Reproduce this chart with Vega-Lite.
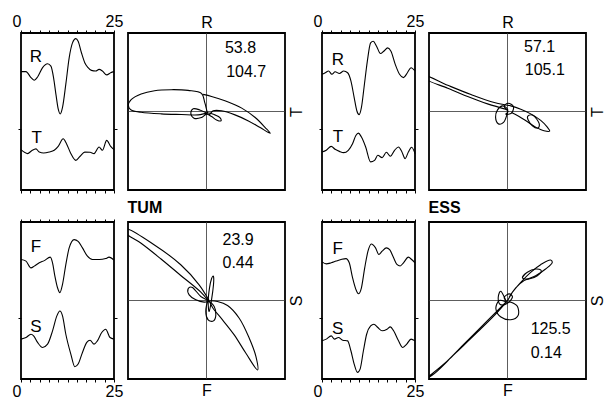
{
"$schema":"https://vega.github.io/schema/vega-lite/v6.json",
"padding":{"left":11,"top":12,"right":5,"bottom":5},
"background":"white",
"config":{"font":"Liberation Sans","view":{"stroke":"black","strokeWidth":1.8},"axis":{"labelFont":"Liberation Sans","titleFont":"Liberation Sans","labelColor":"black","titleColor":"black"},"text":{"font":"Liberation Sans"},"title":{"font":"Liberation Sans","color":"black"}},
"datasets":{
"wave":[
{"s":"TUM","g":"RT","c":"R","t":0,"a":0.754},{"s":"TUM","g":"RT","c":"R","t":1.34,"a":0.754},{"s":"TUM","g":"RT","c":"R","t":2.68,"a":0.716},{"s":"TUM","g":"RT","c":"R","t":3.57,"a":0.699},{"s":"TUM","g":"RT","c":"R","t":4.46,"a":0.72},{"s":"TUM","g":"RT","c":"R","t":5.8,"a":0.779},{"s":"TUM","g":"RT","c":"R","t":7.14,"a":0.804},{"s":"TUM","g":"RT","c":"R","t":8.04,"a":0.789},{"s":"TUM","g":"RT","c":"R","t":8.75,"a":0.716},{"s":"TUM","g":"RT","c":"R","t":9.38,"a":0.611},{"s":"TUM","g":"RT","c":"R","t":10.0,"a":0.516},{"s":"TUM","g":"RT","c":"R","t":10.54,"a":0.484},{"s":"TUM","g":"RT","c":"R","t":11.16,"a":0.526},{"s":"TUM","g":"RT","c":"R","t":12.05,"a":0.674},{"s":"TUM","g":"RT","c":"R","t":12.95,"a":0.842},{"s":"TUM","g":"RT","c":"R","t":13.84,"a":0.937},{"s":"TUM","g":"RT","c":"R","t":14.73,"a":0.964},{"s":"TUM","g":"RT","c":"R","t":15.36,"a":0.947},{"s":"TUM","g":"RT","c":"R","t":16.25,"a":0.874},{"s":"TUM","g":"RT","c":"R","t":17.14,"a":0.811},{"s":"TUM","g":"RT","c":"R","t":18.04,"a":0.779},{"s":"TUM","g":"RT","c":"R","t":18.93,"a":0.762},{"s":"TUM","g":"RT","c":"R","t":20.09,"a":0.758},{"s":"TUM","g":"RT","c":"R","t":20.98,"a":0.768},{"s":"TUM","g":"RT","c":"R","t":21.88,"a":0.758},{"s":"TUM","g":"RT","c":"R","t":23.04,"a":0.733},{"s":"TUM","g":"RT","c":"R","t":24.11,"a":0.747},{"s":"TUM","g":"RT","c":"R","t":25,"a":0.754},
{"s":"TUM","g":"RT","c":"T","t":0,"a":0.257},{"s":"TUM","g":"RT","c":"T","t":1.79,"a":0.232},{"s":"TUM","g":"RT","c":"T","t":2.86,"a":0.25},{"s":"TUM","g":"RT","c":"T","t":4.02,"a":0.262},{"s":"TUM","g":"RT","c":"T","t":4.91,"a":0.242},{"s":"TUM","g":"RT","c":"T","t":6.07,"a":0.236},{"s":"TUM","g":"RT","c":"T","t":7.59,"a":0.242},{"s":"TUM","g":"RT","c":"T","t":8.93,"a":0.253},{"s":"TUM","g":"RT","c":"T","t":10.0,"a":0.278},{"s":"TUM","g":"RT","c":"T","t":11.34,"a":0.326},{"s":"TUM","g":"RT","c":"T","t":12.23,"a":0.295},{"s":"TUM","g":"RT","c":"T","t":13.39,"a":0.232},{"s":"TUM","g":"RT","c":"T","t":14.73,"a":0.189},{"s":"TUM","g":"RT","c":"T","t":15.89,"a":0.215},{"s":"TUM","g":"RT","c":"T","t":17.14,"a":0.241},{"s":"TUM","g":"RT","c":"T","t":18.57,"a":0.24},{"s":"TUM","g":"RT","c":"T","t":19.64,"a":0.232},{"s":"TUM","g":"RT","c":"T","t":20.98,"a":0.274},{"s":"TUM","g":"RT","c":"T","t":21.88,"a":0.253},{"s":"TUM","g":"RT","c":"T","t":23.04,"a":0.316},{"s":"TUM","g":"RT","c":"T","t":24.11,"a":0.278},{"s":"TUM","g":"RT","c":"T","t":25,"a":0.257},
{"s":"ESS","g":"RT","c":"R","t":0,"a":0.737},{"s":"ESS","g":"RT","c":"R","t":0.88,"a":0.747},{"s":"ESS","g":"RT","c":"R","t":1.77,"a":0.758},{"s":"ESS","g":"RT","c":"R","t":2.65,"a":0.737},{"s":"ESS","g":"RT","c":"R","t":3.53,"a":0.753},{"s":"ESS","g":"RT","c":"R","t":4.68,"a":0.742},{"s":"ESS","g":"RT","c":"R","t":5.83,"a":0.758},{"s":"ESS","g":"RT","c":"R","t":6.89,"a":0.747},{"s":"ESS","g":"RT","c":"R","t":7.77,"a":0.695},{"s":"ESS","g":"RT","c":"R","t":8.65,"a":0.589},{"s":"ESS","g":"RT","c":"R","t":9.36,"a":0.505},{"s":"ESS","g":"RT","c":"R","t":9.98,"a":0.48},{"s":"ESS","g":"RT","c":"R","t":10.6,"a":0.526},{"s":"ESS","g":"RT","c":"R","t":11.3,"a":0.653},{"s":"ESS","g":"RT","c":"R","t":12.19,"a":0.821},{"s":"ESS","g":"RT","c":"R","t":13.07,"a":0.937},{"s":"ESS","g":"RT","c":"R","t":13.77,"a":0.947},{"s":"ESS","g":"RT","c":"R","t":14.66,"a":0.916},{"s":"ESS","g":"RT","c":"R","t":15.72,"a":0.869},{"s":"ESS","g":"RT","c":"R","t":16.6,"a":0.884},{"s":"ESS","g":"RT","c":"R","t":17.66,"a":0.905},{"s":"ESS","g":"RT","c":"R","t":18.54,"a":0.884},{"s":"ESS","g":"RT","c":"R","t":19.69,"a":0.8},{"s":"ESS","g":"RT","c":"R","t":20.84,"a":0.737},{"s":"ESS","g":"RT","c":"R","t":21.9,"a":0.716},{"s":"ESS","g":"RT","c":"R","t":22.96,"a":0.747},{"s":"ESS","g":"RT","c":"R","t":23.93,"a":0.779},{"s":"ESS","g":"RT","c":"R","t":25,"a":0.758},
{"s":"ESS","g":"RT","c":"T","t":0,"a":0.242},{"s":"ESS","g":"RT","c":"T","t":1.15,"a":0.253},{"s":"ESS","g":"RT","c":"T","t":2.47,"a":0.278},{"s":"ESS","g":"RT","c":"T","t":3.53,"a":0.259},{"s":"ESS","g":"RT","c":"T","t":4.68,"a":0.246},{"s":"ESS","g":"RT","c":"T","t":5.83,"a":0.238},{"s":"ESS","g":"RT","c":"T","t":7.07,"a":0.253},{"s":"ESS","g":"RT","c":"T","t":8.21,"a":0.295},{"s":"ESS","g":"RT","c":"T","t":9.1,"a":0.347},{"s":"ESS","g":"RT","c":"T","t":9.8,"a":0.362},{"s":"ESS","g":"RT","c":"T","t":10.6,"a":0.337},{"s":"ESS","g":"RT","c":"T","t":11.74,"a":0.274},{"s":"ESS","g":"RT","c":"T","t":13.07,"a":0.179},{"s":"ESS","g":"RT","c":"T","t":14.13,"a":0.189},{"s":"ESS","g":"RT","c":"T","t":15.01,"a":0.221},{"s":"ESS","g":"RT","c":"T","t":16.16,"a":0.206},{"s":"ESS","g":"RT","c":"T","t":17.31,"a":0.24},{"s":"ESS","g":"RT","c":"T","t":18.37,"a":0.215},{"s":"ESS","g":"RT","c":"T","t":19.51,"a":0.253},{"s":"ESS","g":"RT","c":"T","t":20.57,"a":0.274},{"s":"ESS","g":"RT","c":"T","t":21.46,"a":0.244},{"s":"ESS","g":"RT","c":"T","t":22.34,"a":0.2},{"s":"ESS","g":"RT","c":"T","t":23.22,"a":0.242},{"s":"ESS","g":"RT","c":"T","t":24.1,"a":0.272},{"s":"ESS","g":"RT","c":"T","t":25,"a":0.232},
{"s":"TUM","g":"FS","c":"F","t":0,"a":0.761},{"s":"TUM","g":"FS","c":"F","t":1.34,"a":0.751},{"s":"TUM","g":"FS","c":"F","t":2.68,"a":0.708},{"s":"TUM","g":"FS","c":"F","t":3.57,"a":0.719},{"s":"TUM","g":"FS","c":"F","t":4.91,"a":0.74},{"s":"TUM","g":"FS","c":"F","t":6.25,"a":0.754},{"s":"TUM","g":"FS","c":"F","t":7.86,"a":0.776},{"s":"TUM","g":"FS","c":"F","t":8.48,"a":0.74},{"s":"TUM","g":"FS","c":"F","t":9.11,"a":0.655},{"s":"TUM","g":"FS","c":"F","t":9.82,"a":0.581},{"s":"TUM","g":"FS","c":"F","t":10.45,"a":0.55},{"s":"TUM","g":"FS","c":"F","t":11.16,"a":0.603},{"s":"TUM","g":"FS","c":"F","t":12.05,"a":0.729},{"s":"TUM","g":"FS","c":"F","t":12.95,"a":0.835},{"s":"TUM","g":"FS","c":"F","t":14.29,"a":0.888},{"s":"TUM","g":"FS","c":"F","t":15.36,"a":0.877},{"s":"TUM","g":"FS","c":"F","t":16.52,"a":0.835},{"s":"TUM","g":"FS","c":"F","t":17.86,"a":0.782},{"s":"TUM","g":"FS","c":"F","t":19.2,"a":0.761},{"s":"TUM","g":"FS","c":"F","t":20.98,"a":0.761},{"s":"TUM","g":"FS","c":"F","t":22.77,"a":0.767},{"s":"TUM","g":"FS","c":"F","t":23.66,"a":0.776},{"s":"TUM","g":"FS","c":"F","t":25,"a":0.757},
{"s":"TUM","g":"FS","c":"S","t":0,"a":0.254},{"s":"TUM","g":"FS","c":"S","t":1.34,"a":0.264},{"s":"TUM","g":"FS","c":"S","t":2.68,"a":0.285},{"s":"TUM","g":"FS","c":"S","t":3.39,"a":0.275},{"s":"TUM","g":"FS","c":"S","t":4.46,"a":0.233},{"s":"TUM","g":"FS","c":"S","t":5.8,"a":0.201},{"s":"TUM","g":"FS","c":"S","t":7.14,"a":0.222},{"s":"TUM","g":"FS","c":"S","t":8.48,"a":0.307},{"s":"TUM","g":"FS","c":"S","t":9.64,"a":0.402},{"s":"TUM","g":"FS","c":"S","t":10.45,"a":0.433},{"s":"TUM","g":"FS","c":"S","t":11.16,"a":0.402},{"s":"TUM","g":"FS","c":"S","t":12.05,"a":0.285},{"s":"TUM","g":"FS","c":"S","t":13.39,"a":0.159},{"s":"TUM","g":"FS","c":"S","t":14.47,"a":0.078},{"s":"TUM","g":"FS","c":"S","t":15.36,"a":0.095},{"s":"TUM","g":"FS","c":"S","t":16.52,"a":0.169},{"s":"TUM","g":"FS","c":"S","t":17.68,"a":0.233},{"s":"TUM","g":"FS","c":"S","t":18.57,"a":0.247},{"s":"TUM","g":"FS","c":"S","t":19.64,"a":0.222},{"s":"TUM","g":"FS","c":"S","t":20.54,"a":0.243},{"s":"TUM","g":"FS","c":"S","t":21.7,"a":0.296},{"s":"TUM","g":"FS","c":"S","t":22.77,"a":0.317},{"s":"TUM","g":"FS","c":"S","t":23.93,"a":0.264},{"s":"TUM","g":"FS","c":"S","t":25,"a":0.254},
{"s":"ESS","g":"FS","c":"F","t":0,"a":0.746},{"s":"ESS","g":"FS","c":"F","t":1.15,"a":0.733},{"s":"ESS","g":"FS","c":"F","t":2.47,"a":0.74},{"s":"ESS","g":"FS","c":"F","t":3.8,"a":0.751},{"s":"ESS","g":"FS","c":"F","t":5.12,"a":0.761},{"s":"ESS","g":"FS","c":"F","t":6.45,"a":0.767},{"s":"ESS","g":"FS","c":"F","t":7.33,"a":0.74},{"s":"ESS","g":"FS","c":"F","t":8.21,"a":0.645},{"s":"ESS","g":"FS","c":"F","t":9.1,"a":0.571},{"s":"ESS","g":"FS","c":"F","t":9.8,"a":0.543},{"s":"ESS","g":"FS","c":"F","t":10.6,"a":0.581},{"s":"ESS","g":"FS","c":"F","t":11.48,"a":0.708},{"s":"ESS","g":"FS","c":"F","t":12.36,"a":0.814},{"s":"ESS","g":"FS","c":"F","t":13.25,"a":0.86},{"s":"ESS","g":"FS","c":"F","t":14.39,"a":0.835},{"s":"ESS","g":"FS","c":"F","t":15.28,"a":0.793},{"s":"ESS","g":"FS","c":"F","t":16.16,"a":0.814},{"s":"ESS","g":"FS","c":"F","t":17.31,"a":0.835},{"s":"ESS","g":"FS","c":"F","t":18.19,"a":0.824},{"s":"ESS","g":"FS","c":"F","t":19.25,"a":0.772},{"s":"ESS","g":"FS","c":"F","t":20.13,"a":0.73},{"s":"ESS","g":"FS","c":"F","t":21.02,"a":0.72},{"s":"ESS","g":"FS","c":"F","t":21.9,"a":0.74},{"s":"ESS","g":"FS","c":"F","t":23.22,"a":0.776},{"s":"ESS","g":"FS","c":"F","t":24.1,"a":0.761},{"s":"ESS","g":"FS","c":"F","t":25,"a":0.74},
{"s":"ESS","g":"FS","c":"S","t":0,"a":0.243},{"s":"ESS","g":"FS","c":"S","t":1.15,"a":0.254},{"s":"ESS","g":"FS","c":"S","t":2.47,"a":0.275},{"s":"ESS","g":"FS","c":"S","t":3.36,"a":0.254},{"s":"ESS","g":"FS","c":"S","t":4.42,"a":0.264},{"s":"ESS","g":"FS","c":"S","t":5.56,"a":0.247},{"s":"ESS","g":"FS","c":"S","t":6.89,"a":0.243},{"s":"ESS","g":"FS","c":"S","t":7.77,"a":0.18},{"s":"ESS","g":"FS","c":"S","t":8.65,"a":0.095},{"s":"ESS","g":"FS","c":"S","t":9.54,"a":0.042},{"s":"ESS","g":"FS","c":"S","t":10.24,"a":0.063},{"s":"ESS","g":"FS","c":"S","t":11.13,"a":0.18},{"s":"ESS","g":"FS","c":"S","t":12.0,"a":0.285},{"s":"ESS","g":"FS","c":"S","t":13.07,"a":0.338},{"s":"ESS","g":"FS","c":"S","t":13.95,"a":0.349},{"s":"ESS","g":"FS","c":"S","t":15.01,"a":0.328},{"s":"ESS","g":"FS","c":"S","t":16.16,"a":0.307},{"s":"ESS","g":"FS","c":"S","t":17.48,"a":0.317},{"s":"ESS","g":"FS","c":"S","t":18.37,"a":0.332},{"s":"ESS","g":"FS","c":"S","t":19.25,"a":0.307},{"s":"ESS","g":"FS","c":"S","t":20.57,"a":0.243},{"s":"ESS","g":"FS","c":"S","t":21.72,"a":0.201},{"s":"ESS","g":"FS","c":"S","t":22.78,"a":0.222},{"s":"ESS","g":"FS","c":"S","t":23.93,"a":0.254},{"s":"ESS","g":"FS","c":"S","t":25,"a":0.243}
],
"wlab":[
{"s":"TUM","g":"RT","c":"R","t":4.0,"a":0.844},{"s":"TUM","g":"RT","c":"T","t":4.2,"a":0.332},
{"s":"ESS","g":"RT","c":"R","t":4.3,"a":0.83},{"s":"ESS","g":"RT","c":"T","t":4.3,"a":0.34},
{"s":"TUM","g":"FS","c":"F","t":4.0,"a":0.842},{"s":"TUM","g":"FS","c":"S","t":4.0,"a":0.332},
{"s":"ESS","g":"FS","c":"F","t":4.2,"a":0.83},{"s":"ESS","g":"FS","c":"S","t":4.2,"a":0.32}
],
"pmtxt":[
{"s":"TUM","g":"RT","txt":"53.8","h":0.235,"v":0.81},{"s":"TUM","g":"RT","txt":"104.7","h":0.25,"v":0.5},
{"s":"ESS","g":"RT","txt":"57.1","h":0.21,"v":0.825},{"s":"ESS","g":"RT","txt":"105.1","h":0.22,"v":0.53},
{"s":"TUM","g":"FS","txt":"23.9","h":0.204,"v":0.775},{"s":"TUM","g":"FS","txt":"0.44","h":0.204,"v":0.476},
{"s":"ESS","g":"FS","txt":"125.5","h":0.295,"v":-0.358},{"s":"ESS","g":"FS","txt":"0.14","h":0.295,"v":-0.67}
],
"pm":[
{"s":"TUM","g":"RT","k":0,"i":0,"h":0,"v":-0.02},{"s":"TUM","g":"RT","k":0,"i":1,"h":-0.085,"v":0.02},{"s":"TUM","g":"RT","k":0,"i":2,"h":-0.17,"v":0.034},{"s":"TUM","g":"RT","k":0,"i":3,"h":-0.2,"v":-0.02},{"s":"TUM","g":"RT","k":0,"i":4,"h":-0.16,"v":-0.085},{"s":"TUM","g":"RT","k":0,"i":5,"h":-0.064,"v":-0.077},{"s":"TUM","g":"RT","k":0,"i":6,"h":0,"v":-0.034},{"s":"TUM","g":"RT","k":0,"i":7,"h":0.064,"v":-0.064},{"s":"TUM","g":"RT","k":0,"i":8,"h":0.128,"v":-0.107},{"s":"TUM","g":"RT","k":0,"i":9,"h":0.184,"v":-0.12},{"s":"TUM","g":"RT","k":0,"i":10,"h":0.171,"v":-0.077},{"s":"TUM","g":"RT","k":0,"i":11,"h":0.107,"v":-0.043},{"s":"TUM","g":"RT","k":0,"i":12,"h":0.03,"v":-0.02},{"s":"TUM","g":"RT","k":0,"i":13,"h":-0.107,"v":-0.043},{"s":"TUM","g":"RT","k":0,"i":14,"h":-0.32,"v":-0.038},{"s":"TUM","g":"RT","k":0,"i":15,"h":-0.577,"v":-0.03},{"s":"TUM","g":"RT","k":0,"i":16,"h":-0.833,"v":-0.009},{"s":"TUM","g":"RT","k":0,"i":17,"h":-0.96,"v":0.02},{"s":"TUM","g":"RT","k":0,"i":18,"h":-0.996,"v":0.077},{"s":"TUM","g":"RT","k":0,"i":19,"h":-0.96,"v":0.15},{"s":"TUM","g":"RT","k":0,"i":20,"h":-0.833,"v":0.222},{"s":"TUM","g":"RT","k":0,"i":21,"h":-0.662,"v":0.265},{"s":"TUM","g":"RT","k":0,"i":22,"h":-0.449,"v":0.278},{"s":"TUM","g":"RT","k":0,"i":23,"h":-0.235,"v":0.269},{"s":"TUM","g":"RT","k":0,"i":24,"h":-0.064,"v":0.231},{"s":"TUM","g":"RT","k":0,"i":25,"h":-0.02,"v":0.107},{"s":"TUM","g":"RT","k":0,"i":26,"h":0.03,"v":-0.043},{"s":"TUM","g":"RT","k":0,"i":27,"h":0.085,"v":0.009},{"s":"TUM","g":"RT","k":0,"i":28,"h":0.192,"v":0.009},{"s":"TUM","g":"RT","k":0,"i":29,"h":0.363,"v":-0.043},{"s":"TUM","g":"RT","k":0,"i":30,"h":0.534,"v":-0.12},{"s":"TUM","g":"RT","k":0,"i":31,"h":0.684,"v":-0.205},{"s":"TUM","g":"RT","k":0,"i":32,"h":0.812,"v":-0.278},{"s":"TUM","g":"RT","k":0,"i":33,"h":0.748,"v":-0.205},{"s":"TUM","g":"RT","k":0,"i":34,"h":0.62,"v":-0.077},{"s":"TUM","g":"RT","k":0,"i":35,"h":0.449,"v":0.043},{"s":"TUM","g":"RT","k":0,"i":36,"h":0.235,"v":0.137},{"s":"TUM","g":"RT","k":0,"i":37,"h":0.064,"v":0.192},{"s":"TUM","g":"RT","k":0,"i":38,"h":-0.043,"v":0.218},
{"s":"ESS","g":"RT","k":1,"i":0,"h":0.008,"v":0},{"s":"ESS","g":"RT","k":1,"i":1,"h":-0.042,"v":0.063},{"s":"ESS","g":"RT","k":1,"i":2,"h":0.008,"v":0.106},{"s":"ESS","g":"RT","k":1,"i":3,"h":0.076,"v":0.063},{"s":"ESS","g":"RT","k":1,"i":4,"h":0.051,"v":-0.021},{"s":"ESS","g":"RT","k":1,"i":5,"h":-0.021,"v":-0.034},
{"s":"ESS","g":"RT","k":2,"i":0,"h":-0.063,"v":0.072},{"s":"ESS","g":"RT","k":2,"i":1,"h":-0.127,"v":0.021},{"s":"ESS","g":"RT","k":2,"i":2,"h":-0.152,"v":-0.072},{"s":"ESS","g":"RT","k":2,"i":3,"h":-0.118,"v":-0.156},{"s":"ESS","g":"RT","k":2,"i":4,"h":-0.051,"v":-0.14},{"s":"ESS","g":"RT","k":2,"i":5,"h":-0.008,"v":-0.042},{"s":"ESS","g":"RT","k":2,"i":6,"h":0,"v":0.03},
{"s":"ESS","g":"RT","k":0,"i":0,"h":0.008,"v":0.021},{"s":"ESS","g":"RT","k":0,"i":1,"h":-0.254,"v":0.097},{"s":"ESS","g":"RT","k":0,"i":2,"h":-0.507,"v":0.19},{"s":"ESS","g":"RT","k":0,"i":3,"h":-0.761,"v":0.296},{"s":"ESS","g":"RT","k":0,"i":4,"h":-1.05,"v":0.42},{"s":"ESS","g":"RT","k":0,"i":5,"h":-1.05,"v":0.455},{"s":"ESS","g":"RT","k":0,"i":6,"h":-0.761,"v":0.334},{"s":"ESS","g":"RT","k":0,"i":7,"h":-0.465,"v":0.216},{"s":"ESS","g":"RT","k":0,"i":8,"h":-0.169,"v":0.114},{"s":"ESS","g":"RT","k":0,"i":9,"h":0.042,"v":0.072},{"s":"ESS","g":"RT","k":0,"i":10,"h":0.169,"v":0.03},{"s":"ESS","g":"RT","k":0,"i":11,"h":0.296,"v":-0.03},{"s":"ESS","g":"RT","k":0,"i":12,"h":0.423,"v":-0.114},{"s":"ESS","g":"RT","k":0,"i":13,"h":0.507,"v":-0.199},{"s":"ESS","g":"RT","k":0,"i":14,"h":0.537,"v":-0.249},{"s":"ESS","g":"RT","k":0,"i":15,"h":0.465,"v":-0.245},{"s":"ESS","g":"RT","k":0,"i":16,"h":0.359,"v":-0.199},{"s":"ESS","g":"RT","k":0,"i":17,"h":0.254,"v":-0.131},{"s":"ESS","g":"RT","k":0,"i":18,"h":0.148,"v":-0.063},{"s":"ESS","g":"RT","k":0,"i":19,"h":0.051,"v":-0.013},
{"s":"ESS","g":"RT","k":3,"i":0,"h":0.262,"v":-0.055},{"s":"ESS","g":"RT","k":3,"i":1,"h":0.33,"v":-0.051},{"s":"ESS","g":"RT","k":3,"i":2,"h":0.402,"v":-0.148},{"s":"ESS","g":"RT","k":3,"i":3,"h":0.389,"v":-0.211},{"s":"ESS","g":"RT","k":3,"i":4,"h":0.317,"v":-0.182},{"s":"ESS","g":"RT","k":3,"i":5,"h":0.262,"v":-0.106},
{"s":"TUM","g":"FS","k":0,"i":0,"h":0.021,"v":0},{"s":"TUM","g":"FS","k":0,"i":1,"h":-0.072,"v":0.106},{"s":"TUM","g":"FS","k":0,"i":2,"h":-0.328,"v":0.319},{"s":"TUM","g":"FS","k":0,"i":3,"h":-0.583,"v":0.532},{"s":"TUM","g":"FS","k":0,"i":4,"h":-0.838,"v":0.732},{"s":"TUM","g":"FS","k":0,"i":5,"h":-1.03,"v":0.86},{"s":"TUM","g":"FS","k":0,"i":6,"h":-1.03,"v":0.915},{"s":"TUM","g":"FS","k":0,"i":7,"h":-0.668,"v":0.711},{"s":"TUM","g":"FS","k":0,"i":8,"h":-0.328,"v":0.455},{"s":"TUM","g":"FS","k":0,"i":9,"h":-0.094,"v":0.2},{"s":"TUM","g":"FS","k":0,"i":10,"h":0.021,"v":0.021},{"s":"TUM","g":"FS","k":0,"i":11,"h":0.077,"v":-0.089},{"s":"TUM","g":"FS","k":0,"i":12,"h":0.204,"v":-0.247},{"s":"TUM","g":"FS","k":0,"i":13,"h":0.353,"v":-0.438},{"s":"TUM","g":"FS","k":0,"i":14,"h":0.502,"v":-0.672},{"s":"TUM","g":"FS","k":0,"i":15,"h":0.651,"v":-0.885},{"s":"TUM","g":"FS","k":0,"i":16,"h":0.63,"v":-0.715},{"s":"TUM","g":"FS","k":0,"i":17,"h":0.545,"v":-0.481},{"s":"TUM","g":"FS","k":0,"i":18,"h":0.417,"v":-0.226},{"s":"TUM","g":"FS","k":0,"i":19,"h":0.268,"v":-0.064},{"s":"TUM","g":"FS","k":0,"i":20,"h":0.14,"v":-0.013},{"s":"TUM","g":"FS","k":0,"i":21,"h":0.047,"v":-0.004},
{"s":"TUM","g":"FS","k":1,"i":0,"h":0.021,"v":0},{"s":"TUM","g":"FS","k":1,"i":1,"h":-0.072,"v":0.051},{"s":"TUM","g":"FS","k":1,"i":2,"h":-0.179,"v":0.166},{"s":"TUM","g":"FS","k":1,"i":3,"h":-0.234,"v":0.149},{"s":"TUM","g":"FS","k":1,"i":4,"h":-0.221,"v":0.072},{"s":"TUM","g":"FS","k":1,"i":5,"h":-0.136,"v":0.009},{"s":"TUM","g":"FS","k":1,"i":6,"h":-0.03,"v":-0.021},
{"s":"TUM","g":"FS","k":2,"i":0,"h":0.021,"v":-0.013},{"s":"TUM","g":"FS","k":2,"i":1,"h":0.038,"v":0.157},{"s":"TUM","g":"FS","k":2,"i":2,"h":0.064,"v":0.277},{"s":"TUM","g":"FS","k":2,"i":3,"h":0.089,"v":0.306},{"s":"TUM","g":"FS","k":2,"i":4,"h":0.089,"v":0.2},{"s":"TUM","g":"FS","k":2,"i":5,"h":0.064,"v":0.009},{"s":"TUM","g":"FS","k":2,"i":6,"h":0.034,"v":-0.14},
{"s":"TUM","g":"FS","k":3,"i":0,"h":0.021,"v":-0.013},{"s":"TUM","g":"FS","k":3,"i":1,"h":-0.009,"v":-0.14},{"s":"TUM","g":"FS","k":3,"i":2,"h":0.021,"v":-0.247},{"s":"TUM","g":"FS","k":3,"i":3,"h":0.089,"v":-0.26},{"s":"TUM","g":"FS","k":3,"i":4,"h":0.119,"v":-0.183},{"s":"TUM","g":"FS","k":3,"i":5,"h":0.098,"v":-0.077},
{"s":"ESS","g":"FS","k":0,"i":0,"h":-0.021,"v":-0.021},{"s":"ESS","g":"FS","k":0,"i":1,"h":-0.253,"v":-0.253},{"s":"ESS","g":"FS","k":0,"i":2,"h":-0.549,"v":-0.549},{"s":"ESS","g":"FS","k":0,"i":3,"h":-0.802,"v":-0.802},{"s":"ESS","g":"FS","k":0,"i":4,"h":-1.04,"v":-1.0},{"s":"ESS","g":"FS","k":0,"i":5,"h":-0.928,"v":-0.928},{"s":"ESS","g":"FS","k":0,"i":6,"h":-0.675,"v":-0.684},{"s":"ESS","g":"FS","k":0,"i":7,"h":-0.38,"v":-0.401},{"s":"ESS","g":"FS","k":0,"i":8,"h":-0.127,"v":-0.148},{"s":"ESS","g":"FS","k":0,"i":9,"h":0,"v":0},{"s":"ESS","g":"FS","k":0,"i":10,"h":0.063,"v":0.105},{"s":"ESS","g":"FS","k":0,"i":11,"h":0.169,"v":0.232},{"s":"ESS","g":"FS","k":0,"i":12,"h":0.295,"v":0.359},{"s":"ESS","g":"FS","k":0,"i":13,"h":0.422,"v":0.456},{"s":"ESS","g":"FS","k":0,"i":14,"h":0.549,"v":0.515},{"s":"ESS","g":"FS","k":0,"i":15,"h":0.57,"v":0.485},{"s":"ESS","g":"FS","k":0,"i":16,"h":0.485,"v":0.401},{"s":"ESS","g":"FS","k":0,"i":17,"h":0.359,"v":0.316},{"s":"ESS","g":"FS","k":0,"i":18,"h":0.211,"v":0.253},{"s":"ESS","g":"FS","k":0,"i":19,"h":0.105,"v":0.16},{"s":"ESS","g":"FS","k":0,"i":20,"h":0.021,"v":0.042},
{"s":"ESS","g":"FS","k":1,"i":0,"h":0.19,"v":0.287},{"s":"ESS","g":"FS","k":1,"i":1,"h":0.253,"v":0.359},{"s":"ESS","g":"FS","k":1,"i":2,"h":0.359,"v":0.401},{"s":"ESS","g":"FS","k":1,"i":3,"h":0.43,"v":0.38},{"s":"ESS","g":"FS","k":1,"i":4,"h":0.38,"v":0.316},{"s":"ESS","g":"FS","k":1,"i":5,"h":0.274,"v":0.274},
{"s":"ESS","g":"FS","k":2,"i":0,"h":-0.008,"v":-0.021},{"s":"ESS","g":"FS","k":2,"i":1,"h":-0.105,"v":0},{"s":"ESS","g":"FS","k":2,"i":2,"h":-0.148,"v":-0.105},{"s":"ESS","g":"FS","k":2,"i":3,"h":-0.084,"v":-0.211},{"s":"ESS","g":"FS","k":2,"i":4,"h":0.042,"v":-0.245},{"s":"ESS","g":"FS","k":2,"i":5,"h":0.135,"v":-0.19},{"s":"ESS","g":"FS","k":2,"i":6,"h":0.127,"v":-0.076},{"s":"ESS","g":"FS","k":2,"i":7,"h":0.042,"v":-0.021},
{"s":"ESS","g":"FS","k":3,"i":0,"h":-0.021,"v":0},{"s":"ESS","g":"FS","k":3,"i":1,"h":-0.084,"v":0.118},{"s":"ESS","g":"FS","k":3,"i":2,"h":-0.118,"v":0.042},{"s":"ESS","g":"FS","k":3,"i":3,"h":-0.093,"v":-0.051},{"s":"ESS","g":"FS","k":3,"i":4,"h":0,"v":-0.034},{"s":"ESS","g":"FS","k":3,"i":5,"h":0.063,"v":0.042},{"s":"ESS","g":"FS","k":3,"i":6,"h":0.021,"v":0.084},{"s":"ESS","g":"FS","k":3,"i":7,"h":-0.042,"v":0.042}
]
},
"columns":5,
"spacing":{"row":32,"column":14},
"bounds":"flush",
"concat":[
  {"width":93,"height":157,"resolve":{"axis":{"x":"independent","y":"independent"}},"layer":[
   {"data":{"name":"wave"},"transform":[{"filter":"datum.s=='TUM' && datum.g=='RT'"}],"mark":{"type":"line","interpolate":"monotone","color":"black","strokeWidth":1.1},
    "encoding":{"x":{"field":"t","type":"quantitative","scale":{"domain":[0,25],"nice":false},"axis":{"orient":"top","values":[0,2.5,5,7.5,10,12.5,15,17.5,20,22.5,25],"labelExpr":"datum.value==0||datum.value==25 ? datum.label : ''","labelAlign":{"condition":{"test":"datum.value==0","value":"right"},"value":"center"},"labelFlush":false,"labelOverlap":false,"title":null,"domain":false,"grid":false,"tickSize":3,"tickColor":"black","labelFontSize":16,"labelPadding":1}},
     "y":{"field":"a","type":"quantitative","scale":{"domain":[0,1],"nice":false},"axis":{"orient":"left","values":[0.39],"labels":false,"title":null,"domain":false,"grid":false,"tickSize":3,"tickColor":"black"}},
     "detail":{"field":"c"}}},
   {"data":{"name":"wlab"},"transform":[{"filter":"datum.s=='TUM' && datum.g=='RT'"}],"mark":{"type":"text","fontSize":17,"color":"black","baseline":"middle"},
    "encoding":{"x":{"field":"t","type":"quantitative","scale":{"domain":[0,25],"nice":false},"axis":{"orient":"bottom","values":[0,2.5,5,7.5,10,12.5,15,17.5,20,22.5,25],"labels":false,"title":null,"domain":false,"grid":false,"tickSize":3,"tickColor":"black"}},
     "y":{"field":"a","type":"quantitative","scale":{"domain":[0,1],"nice":false},"axis":{"orient":"right","values":[0.39],"labels":false,"title":null,"domain":false,"grid":false,"tickSize":3,"tickColor":"black"}},
     "text":{"field":"c"}}}
  ]},
  {"width":157,"height":157,"layer":[
   {"data":{"values":[{"z":0}]},"mark":{"type":"rule","color":"#333","strokeWidth":0.8},"encoding":{"x":{"field":"z","type":"quantitative","scale":{"domain":[-1,1],"nice":false},"axis":{"orient":"top","title":"R","ticks":false,"labels":false,"domain":false,"grid":false,"titleFontSize":16,"titleFontWeight":"normal","titlePadding":3}}}},
   {"data":{"values":[{"z":0}]},"mark":{"type":"rule","color":"#333","strokeWidth":0.8},"encoding":{"y":{"field":"z","type":"quantitative","scale":{"domain":[-1,1],"nice":false},"axis":{"orient":"right","title":"T","titleAngle":270,"titleBaseline":"top","ticks":false,"labels":false,"domain":false,"grid":false,"titleFontSize":16,"titleFontWeight":"normal","titlePadding":3}}}},
   {"data":{"name":"pm"},"transform":[{"filter":"datum.s=='TUM' && datum.g=='RT' && datum.k==0"}],"mark":{"type":"line","interpolate":"catmull-rom","color":"black","strokeWidth":1.1,"clip":true},"encoding":{"x":{"field":"h","type":"quantitative","scale":{"domain":[-1,1],"nice":false},"axis":{"orient":"top","title":"R","ticks":false,"labels":false,"domain":false,"grid":false,"titleFontSize":16,"titleFontWeight":"normal","titlePadding":3}},"y":{"field":"v","type":"quantitative","scale":{"domain":[-1,1],"nice":false},"axis":{"orient":"right","title":"T","titleAngle":270,"titleBaseline":"top","ticks":false,"labels":false,"domain":false,"grid":false,"titleFontSize":16,"titleFontWeight":"normal","titlePadding":3}},"order":{"field":"i","type":"quantitative"}}},
   {"data":{"name":"pmtxt"},"transform":[{"filter":"datum.s=='TUM' && datum.g=='RT'"}],"mark":{"type":"text","fontSize":16,"color":"black","align":"left","baseline":"middle"},"encoding":{"x":{"field":"h","type":"quantitative","scale":{"domain":[-1,1],"nice":false},"axis":{"orient":"top","title":"R","ticks":false,"labels":false,"domain":false,"grid":false,"titleFontSize":16,"titleFontWeight":"normal","titlePadding":3}},"y":{"field":"v","type":"quantitative","scale":{"domain":[-1,1],"nice":false},"axis":{"orient":"right","title":"T","titleAngle":270,"titleBaseline":"top","ticks":false,"labels":false,"domain":false,"grid":false,"titleFontSize":16,"titleFontWeight":"normal","titlePadding":3}},"text":{"field":"txt"}}}
  ]},
  {"width":9,"height":157,"view":{"stroke":null},"data":{"values":[]},"mark":{"type":"point","opacity":0},"encoding":{}},
  {"width":93,"height":157,"resolve":{"axis":{"x":"independent","y":"independent"}},"layer":[
   {"data":{"name":"wave"},"transform":[{"filter":"datum.s=='ESS' && datum.g=='RT'"}],"mark":{"type":"line","interpolate":"monotone","color":"black","strokeWidth":1.1},
    "encoding":{"x":{"field":"t","type":"quantitative","scale":{"domain":[0,25],"nice":false},"axis":{"orient":"top","values":[0,2.5,5,7.5,10,12.5,15,17.5,20,22.5,25],"labelExpr":"datum.value==0||datum.value==25 ? datum.label : ''","labelAlign":{"condition":{"test":"datum.value==0","value":"right"},"value":"center"},"labelFlush":false,"labelOverlap":false,"title":null,"domain":false,"grid":false,"tickSize":3,"tickColor":"black","labelFontSize":16,"labelPadding":1}},
     "y":{"field":"a","type":"quantitative","scale":{"domain":[0,1],"nice":false},"axis":{"orient":"left","values":[0.39],"labels":false,"title":null,"domain":false,"grid":false,"tickSize":3,"tickColor":"black"}},
     "detail":{"field":"c"}}},
   {"data":{"name":"wlab"},"transform":[{"filter":"datum.s=='ESS' && datum.g=='RT'"}],"mark":{"type":"text","fontSize":17,"color":"black","baseline":"middle"},
    "encoding":{"x":{"field":"t","type":"quantitative","scale":{"domain":[0,25],"nice":false},"axis":{"orient":"bottom","values":[0,2.5,5,7.5,10,12.5,15,17.5,20,22.5,25],"labels":false,"title":null,"domain":false,"grid":false,"tickSize":3,"tickColor":"black"}},
     "y":{"field":"a","type":"quantitative","scale":{"domain":[0,1],"nice":false},"axis":{"orient":"right","values":[0.39],"labels":false,"title":null,"domain":false,"grid":false,"tickSize":3,"tickColor":"black"}},
     "text":{"field":"c"}}}
  ]},
  {"width":157,"height":157,"layer":[
   {"data":{"values":[{"z":0}]},"mark":{"type":"rule","color":"#333","strokeWidth":0.8},"encoding":{"x":{"field":"z","type":"quantitative","scale":{"domain":[-1,1],"nice":false},"axis":{"orient":"top","title":"R","ticks":false,"labels":false,"domain":false,"grid":false,"titleFontSize":16,"titleFontWeight":"normal","titlePadding":3}}}},
   {"data":{"values":[{"z":0}]},"mark":{"type":"rule","color":"#333","strokeWidth":0.8},"encoding":{"y":{"field":"z","type":"quantitative","scale":{"domain":[-1,1],"nice":false},"axis":{"orient":"right","title":"T","titleAngle":270,"titleBaseline":"top","ticks":false,"labels":false,"domain":false,"grid":false,"titleFontSize":16,"titleFontWeight":"normal","titlePadding":3}}}},
   {"data":{"name":"pm"},"transform":[{"filter":"datum.s=='ESS' && datum.g=='RT' && datum.k==0"}],"mark":{"type":"line","interpolate":"catmull-rom","color":"black","strokeWidth":1.1,"clip":true},"encoding":{"x":{"field":"h","type":"quantitative","scale":{"domain":[-1,1],"nice":false},"axis":{"orient":"top","title":"R","ticks":false,"labels":false,"domain":false,"grid":false,"titleFontSize":16,"titleFontWeight":"normal","titlePadding":3}},"y":{"field":"v","type":"quantitative","scale":{"domain":[-1,1],"nice":false},"axis":{"orient":"right","title":"T","titleAngle":270,"titleBaseline":"top","ticks":false,"labels":false,"domain":false,"grid":false,"titleFontSize":16,"titleFontWeight":"normal","titlePadding":3}},"order":{"field":"i","type":"quantitative"}}},
   {"data":{"name":"pm"},"transform":[{"filter":"datum.s=='ESS' && datum.g=='RT' && datum.k>0"}],"mark":{"type":"line","interpolate":"cardinal-closed","color":"black","strokeWidth":1.1,"clip":true},"encoding":{"x":{"field":"h","type":"quantitative","scale":{"domain":[-1,1],"nice":false},"axis":{"orient":"top","title":"R","ticks":false,"labels":false,"domain":false,"grid":false,"titleFontSize":16,"titleFontWeight":"normal","titlePadding":3}},"y":{"field":"v","type":"quantitative","scale":{"domain":[-1,1],"nice":false},"axis":{"orient":"right","title":"T","titleAngle":270,"titleBaseline":"top","ticks":false,"labels":false,"domain":false,"grid":false,"titleFontSize":16,"titleFontWeight":"normal","titlePadding":3}},"order":{"field":"i","type":"quantitative"},"detail":{"field":"k"}}},
   {"data":{"name":"pmtxt"},"transform":[{"filter":"datum.s=='ESS' && datum.g=='RT'"}],"mark":{"type":"text","fontSize":16,"color":"black","align":"left","baseline":"middle"},"encoding":{"x":{"field":"h","type":"quantitative","scale":{"domain":[-1,1],"nice":false},"axis":{"orient":"top","title":"R","ticks":false,"labels":false,"domain":false,"grid":false,"titleFontSize":16,"titleFontWeight":"normal","titlePadding":3}},"y":{"field":"v","type":"quantitative","scale":{"domain":[-1,1],"nice":false},"axis":{"orient":"right","title":"T","titleAngle":270,"titleBaseline":"top","ticks":false,"labels":false,"domain":false,"grid":false,"titleFontSize":16,"titleFontWeight":"normal","titlePadding":3}},"text":{"field":"txt"}}}
  ]},
  {"width":93,"height":157,"resolve":{"axis":{"x":"independent","y":"independent"}},"layer":[
   {"data":{"name":"wave"},"transform":[{"filter":"datum.s=='TUM' && datum.g=='FS'"}],"mark":{"type":"line","interpolate":"monotone","color":"black","strokeWidth":1.1},
    "encoding":{"x":{"field":"t","type":"quantitative","scale":{"domain":[0,25],"nice":false},"axis":{"orient":"bottom","values":[0,2.5,5,7.5,10,12.5,15,17.5,20,22.5,25],"labelExpr":"datum.value==0||datum.value==25 ? datum.label : ''","labelAlign":{"condition":{"test":"datum.value==0","value":"right"},"value":"center"},"labelFlush":false,"labelOverlap":false,"title":null,"domain":false,"grid":false,"tickSize":3,"tickColor":"black","labelFontSize":16,"labelPadding":1}},
     "y":{"field":"a","type":"quantitative","scale":{"domain":[0,1],"nice":false},"axis":{"orient":"left","values":[0.39],"labels":false,"title":null,"domain":false,"grid":false,"tickSize":3,"tickColor":"black"}},
     "detail":{"field":"c"}}},
   {"data":{"name":"wlab"},"transform":[{"filter":"datum.s=='TUM' && datum.g=='FS'"}],"mark":{"type":"text","fontSize":17,"color":"black","baseline":"middle"},
    "encoding":{"x":{"field":"t","type":"quantitative","scale":{"domain":[0,25],"nice":false},"axis":{"orient":"top","values":[0,2.5,5,7.5,10,12.5,15,17.5,20,22.5,25],"labels":false,"title":null,"domain":false,"grid":false,"tickSize":3,"tickColor":"black"}},
     "y":{"field":"a","type":"quantitative","scale":{"domain":[0,1],"nice":false},"axis":{"orient":"right","values":[0.39],"labels":false,"title":null,"domain":false,"grid":false,"tickSize":3,"tickColor":"black"}},
     "text":{"field":"c"}}}
  ]},
  {"width":157,"height":157,"title":{"text":"TUM","anchor":"start","fontSize":16,"fontWeight":"bold","offset":6},"layer":[
   {"data":{"values":[{"z":0}]},"mark":{"type":"rule","color":"#333","strokeWidth":0.8},"encoding":{"x":{"field":"z","type":"quantitative","scale":{"domain":[-1,1],"nice":false},"axis":{"orient":"bottom","title":"F","ticks":false,"labels":false,"domain":false,"grid":false,"titleFontSize":16,"titleFontWeight":"normal","titlePadding":3}}}},
   {"data":{"values":[{"z":0}]},"mark":{"type":"rule","color":"#333","strokeWidth":0.8},"encoding":{"y":{"field":"z","type":"quantitative","scale":{"domain":[-1,1],"nice":false},"axis":{"orient":"right","title":"S","titleAngle":270,"titleBaseline":"top","ticks":false,"labels":false,"domain":false,"grid":false,"titleFontSize":16,"titleFontWeight":"normal","titlePadding":3}}}},
   {"data":{"name":"pm"},"transform":[{"filter":"datum.s=='TUM' && datum.g=='FS' && datum.k==0"}],"mark":{"type":"line","interpolate":"catmull-rom","color":"black","strokeWidth":1.1,"clip":true},"encoding":{"x":{"field":"h","type":"quantitative","scale":{"domain":[-1,1],"nice":false},"axis":{"orient":"bottom","title":"F","ticks":false,"labels":false,"domain":false,"grid":false,"titleFontSize":16,"titleFontWeight":"normal","titlePadding":3}},"y":{"field":"v","type":"quantitative","scale":{"domain":[-1,1],"nice":false},"axis":{"orient":"right","title":"S","titleAngle":270,"titleBaseline":"top","ticks":false,"labels":false,"domain":false,"grid":false,"titleFontSize":16,"titleFontWeight":"normal","titlePadding":3}},"order":{"field":"i","type":"quantitative"}}},
   {"data":{"name":"pm"},"transform":[{"filter":"datum.s=='TUM' && datum.g=='FS' && datum.k>0"}],"mark":{"type":"line","interpolate":"cardinal-closed","color":"black","strokeWidth":1.1,"clip":true},"encoding":{"x":{"field":"h","type":"quantitative","scale":{"domain":[-1,1],"nice":false},"axis":{"orient":"bottom","title":"F","ticks":false,"labels":false,"domain":false,"grid":false,"titleFontSize":16,"titleFontWeight":"normal","titlePadding":3}},"y":{"field":"v","type":"quantitative","scale":{"domain":[-1,1],"nice":false},"axis":{"orient":"right","title":"S","titleAngle":270,"titleBaseline":"top","ticks":false,"labels":false,"domain":false,"grid":false,"titleFontSize":16,"titleFontWeight":"normal","titlePadding":3}},"order":{"field":"i","type":"quantitative"},"detail":{"field":"k"}}},
   {"data":{"name":"pmtxt"},"transform":[{"filter":"datum.s=='TUM' && datum.g=='FS'"}],"mark":{"type":"text","fontSize":16,"color":"black","align":"left","baseline":"middle"},"encoding":{"x":{"field":"h","type":"quantitative","scale":{"domain":[-1,1],"nice":false},"axis":{"orient":"bottom","title":"F","ticks":false,"labels":false,"domain":false,"grid":false,"titleFontSize":16,"titleFontWeight":"normal","titlePadding":3}},"y":{"field":"v","type":"quantitative","scale":{"domain":[-1,1],"nice":false},"axis":{"orient":"right","title":"S","titleAngle":270,"titleBaseline":"top","ticks":false,"labels":false,"domain":false,"grid":false,"titleFontSize":16,"titleFontWeight":"normal","titlePadding":3}},"text":{"field":"txt"}}}
  ]},
  {"width":9,"height":157,"view":{"stroke":null},"data":{"values":[]},"mark":{"type":"point","opacity":0},"encoding":{}},
  {"width":93,"height":157,"resolve":{"axis":{"x":"independent","y":"independent"}},"layer":[
   {"data":{"name":"wave"},"transform":[{"filter":"datum.s=='ESS' && datum.g=='FS'"}],"mark":{"type":"line","interpolate":"monotone","color":"black","strokeWidth":1.1},
    "encoding":{"x":{"field":"t","type":"quantitative","scale":{"domain":[0,25],"nice":false},"axis":{"orient":"bottom","values":[0,2.5,5,7.5,10,12.5,15,17.5,20,22.5,25],"labelExpr":"datum.value==0||datum.value==25 ? datum.label : ''","labelAlign":{"condition":{"test":"datum.value==0","value":"right"},"value":"center"},"labelFlush":false,"labelOverlap":false,"title":null,"domain":false,"grid":false,"tickSize":3,"tickColor":"black","labelFontSize":16,"labelPadding":1}},
     "y":{"field":"a","type":"quantitative","scale":{"domain":[0,1],"nice":false},"axis":{"orient":"left","values":[0.39],"labels":false,"title":null,"domain":false,"grid":false,"tickSize":3,"tickColor":"black"}},
     "detail":{"field":"c"}}},
   {"data":{"name":"wlab"},"transform":[{"filter":"datum.s=='ESS' && datum.g=='FS'"}],"mark":{"type":"text","fontSize":17,"color":"black","baseline":"middle"},
    "encoding":{"x":{"field":"t","type":"quantitative","scale":{"domain":[0,25],"nice":false},"axis":{"orient":"top","values":[0,2.5,5,7.5,10,12.5,15,17.5,20,22.5,25],"labels":false,"title":null,"domain":false,"grid":false,"tickSize":3,"tickColor":"black"}},
     "y":{"field":"a","type":"quantitative","scale":{"domain":[0,1],"nice":false},"axis":{"orient":"right","values":[0.39],"labels":false,"title":null,"domain":false,"grid":false,"tickSize":3,"tickColor":"black"}},
     "text":{"field":"c"}}}
  ]},
  {"width":157,"height":157,"title":{"text":"ESS","anchor":"start","fontSize":16,"fontWeight":"bold","offset":6},"layer":[
   {"data":{"values":[{"z":0}]},"mark":{"type":"rule","color":"#333","strokeWidth":0.8},"encoding":{"x":{"field":"z","type":"quantitative","scale":{"domain":[-1,1],"nice":false},"axis":{"orient":"bottom","title":"F","ticks":false,"labels":false,"domain":false,"grid":false,"titleFontSize":16,"titleFontWeight":"normal","titlePadding":3}}}},
   {"data":{"values":[{"z":0}]},"mark":{"type":"rule","color":"#333","strokeWidth":0.8},"encoding":{"y":{"field":"z","type":"quantitative","scale":{"domain":[-1,1],"nice":false},"axis":{"orient":"right","title":"S","titleAngle":270,"titleBaseline":"top","ticks":false,"labels":false,"domain":false,"grid":false,"titleFontSize":16,"titleFontWeight":"normal","titlePadding":3}}}},
   {"data":{"name":"pm"},"transform":[{"filter":"datum.s=='ESS' && datum.g=='FS' && datum.k==0"}],"mark":{"type":"line","interpolate":"catmull-rom","color":"black","strokeWidth":1.1,"clip":true},"encoding":{"x":{"field":"h","type":"quantitative","scale":{"domain":[-1,1],"nice":false},"axis":{"orient":"bottom","title":"F","ticks":false,"labels":false,"domain":false,"grid":false,"titleFontSize":16,"titleFontWeight":"normal","titlePadding":3}},"y":{"field":"v","type":"quantitative","scale":{"domain":[-1,1],"nice":false},"axis":{"orient":"right","title":"S","titleAngle":270,"titleBaseline":"top","ticks":false,"labels":false,"domain":false,"grid":false,"titleFontSize":16,"titleFontWeight":"normal","titlePadding":3}},"order":{"field":"i","type":"quantitative"}}},
   {"data":{"name":"pm"},"transform":[{"filter":"datum.s=='ESS' && datum.g=='FS' && datum.k>0"}],"mark":{"type":"line","interpolate":"cardinal-closed","color":"black","strokeWidth":1.1,"clip":true},"encoding":{"x":{"field":"h","type":"quantitative","scale":{"domain":[-1,1],"nice":false},"axis":{"orient":"bottom","title":"F","ticks":false,"labels":false,"domain":false,"grid":false,"titleFontSize":16,"titleFontWeight":"normal","titlePadding":3}},"y":{"field":"v","type":"quantitative","scale":{"domain":[-1,1],"nice":false},"axis":{"orient":"right","title":"S","titleAngle":270,"titleBaseline":"top","ticks":false,"labels":false,"domain":false,"grid":false,"titleFontSize":16,"titleFontWeight":"normal","titlePadding":3}},"order":{"field":"i","type":"quantitative"},"detail":{"field":"k"}}},
   {"data":{"name":"pmtxt"},"transform":[{"filter":"datum.s=='ESS' && datum.g=='FS'"}],"mark":{"type":"text","fontSize":16,"color":"black","align":"left","baseline":"middle"},"encoding":{"x":{"field":"h","type":"quantitative","scale":{"domain":[-1,1],"nice":false},"axis":{"orient":"bottom","title":"F","ticks":false,"labels":false,"domain":false,"grid":false,"titleFontSize":16,"titleFontWeight":"normal","titlePadding":3}},"y":{"field":"v","type":"quantitative","scale":{"domain":[-1,1],"nice":false},"axis":{"orient":"right","title":"S","titleAngle":270,"titleBaseline":"top","ticks":false,"labels":false,"domain":false,"grid":false,"titleFontSize":16,"titleFontWeight":"normal","titlePadding":3}},"text":{"field":"txt"}}}
  ]}
]
}
